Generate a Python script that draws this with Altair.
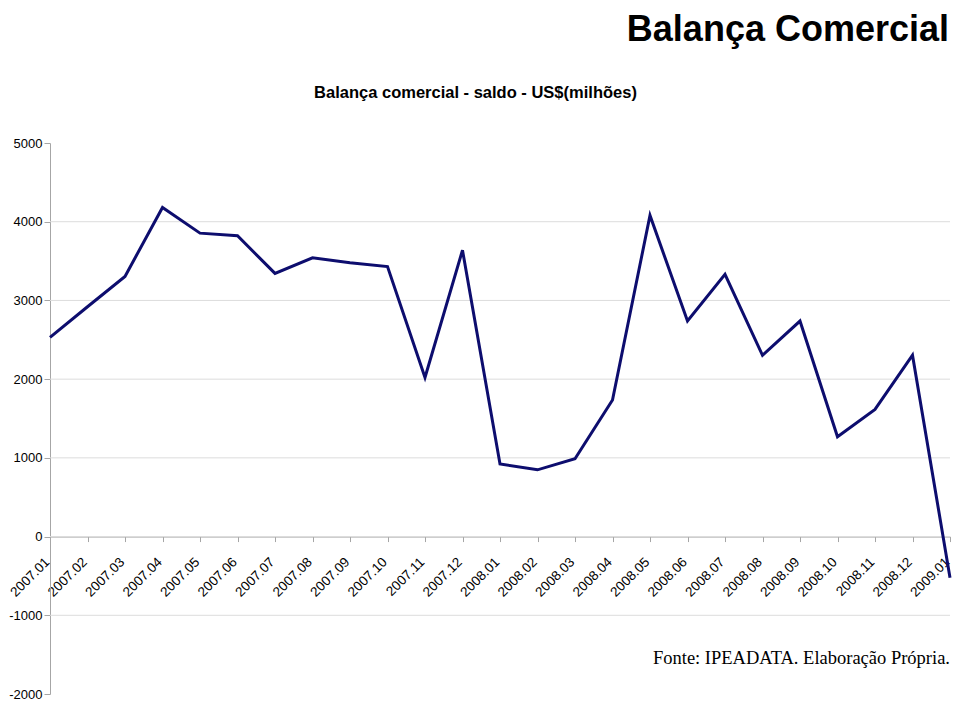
import altair as alt
import pandas as pd

# ---- data ----
months = ["2007.01", "2007.02", "2007.03", "2007.04", "2007.05", "2007.06",
          "2007.07", "2007.08", "2007.09", "2007.10", "2007.11", "2007.12",
          "2008.01", "2008.02", "2008.03", "2008.04", "2008.05", "2008.06",
          "2008.07", "2008.08", "2008.09", "2008.10", "2008.11", "2008.12",
          "2009.01"]
saldo = [2530, 2920, 3305, 4180, 3855, 3822,
         3343, 3541, 3478, 3430, 2022, 3638,
         922, 848, 989, 1735, 4080, 2738,
         3332, 2303, 2738, 1268, 1615, 2305,
         -522]
y_ticks = [-2000, -1000, 0, 1000, 2000, 3000, 4000, 5000]
grid_values = [-1000, 0, 1000, 2000, 3000, 4000]
title_text = ["Balança Comercial"]
subtitle_text = ["Balança comercial - saldo - US$(milhões)"]
footer_text = ["Fonte: IPEADATA. Elaboração Própria."]

df = pd.DataFrame({"mes": months, "saldo": saldo})
grid_df = pd.DataFrame({"v": grid_values})

LEFT, TOP = 50, 143          # page position of plot origin
RIGHT_PAD = 2
W, H = 952 - LEFT - RIGHT_PAD, 551
Y_MIN, Y_MAX = -2000, 5000
zero_offset = -H * (0 - Y_MIN) / (Y_MAX - Y_MIN)

SANS = "Liberation Sans"
SERIF = "Liberation Serif"
AXIS_GRAY = "#a6a6a6"

yscale = alt.Scale(domain=[Y_MIN, Y_MAX], nice=False, zero=False)
yaxis = alt.Axis(title=None, values=y_ticks, labelExpr="'' + datum.value",
                 domainColor=AXIS_GRAY, tickColor=AXIS_GRAY,
                 tickSize=6, labelPadding=2,
                 labelFont=SANS, labelFontSize=13, labelColor="black",
                 grid=False, labelOverlap=False)

grid = alt.Chart(grid_df).mark_rule(color="#dcdcdc", strokeWidth=1).encode(
    y=alt.Y("v:Q", scale=yscale, axis=yaxis)
)

line = alt.Chart(df).mark_line(color="#0d0d6e", strokeWidth=3).encode(
    x=alt.X("mes:N", sort=months,
            scale=alt.Scale(type="point", padding=0),
            axis=alt.Axis(title=None, labelAngle=-45, offset=zero_offset,
                          domainColor=AXIS_GRAY, tickColor=AXIS_GRAY,
                          tickSize=5, labelPadding=18, labelOffset=-3,
                          labelFont=SANS, labelFontSize=13.5, labelColor="black",
                          labelOverlap=False, labelBound=False, grid=False,
                          labelAlign="right", labelBaseline="middle")),
    y=alt.Y("saldo:Q", scale=yscale, axis=yaxis),
)

title = alt.Chart(pd.DataFrame({"t": title_text})).mark_text(
    font=SANS, fontSize=36, fontWeight="bold", align="right",
    baseline="alphabetic", color="black"
).encode(text="t:N", x=alt.value(W - 1), y=alt.value(41 - TOP))

subtitle = alt.Chart(pd.DataFrame({"t": subtitle_text})).mark_text(
    font=SANS, fontSize=16.5, fontWeight="bold", align="center",
    baseline="alphabetic", color="black"
).encode(text="t:N", x=alt.value(475.5 - LEFT), y=alt.value(98 - TOP))

footer = alt.Chart(pd.DataFrame({"t": footer_text})).mark_text(
    font=SERIF, fontSize=18.5, align="right",
    baseline="alphabetic", color="black"
).encode(text="t:N", x=alt.value(W), y=alt.value(664 - TOP))

chart = alt.layer(grid, line, title, subtitle, footer).properties(
    width=W, height=H,
    autosize=alt.AutoSizeParams(type="none"),
    padding={"left": LEFT - 8, "top": TOP - 8, "right": RIGHT_PAD, "bottom": 6},
).configure(background="white").configure_view(strokeWidth=0, stroke="transparent")

chart.save("out.html", embed_options={"renderer": "svg", "actions": False})
